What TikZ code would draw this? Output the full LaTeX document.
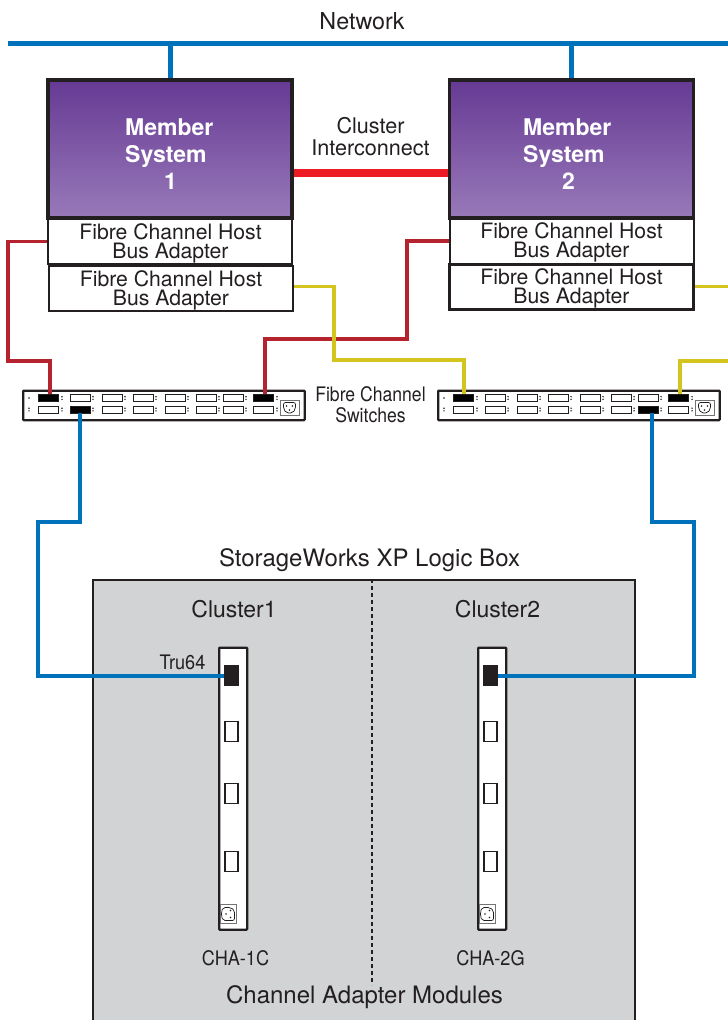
\documentclass[tikz,border=0pt]{standalone}
\usepackage{fontspec}
\setmainfont{TeX Gyre Heros}
\usetikzlibrary{positioning, calc}
\definecolor{inkdark}{HTML}{231F20}
\definecolor{netblue}{HTML}{0072BC}
\definecolor{linkred}{HTML}{ED1C24}
\definecolor{fcred}{HTML}{B5232E}
\definecolor{fcyellow}{HTML}{D4C41E}
\definecolor{boxgrey}{HTML}{D1D3D4}
\definecolor{purpletop}{HTML}{663A94}
\definecolor{purplelow}{HTML}{9879B9}
\tikzset{
    memberbox/.style={rectangle, draw=inkdark, line width=3.5pt, minimum width=244pt, minimum height=138pt, top color=purpletop, bottom color=purplelow, inner sep=0pt},
    membertext/.style={text=white, align=left, inner sep=0pt, font=\fontsize{23}{27}\selectfont\bfseries},
    hbabox/.style={rectangle, draw=inkdark, fill=white, line width=2pt, minimum width=244pt, minimum height=45pt, align=center, inner sep=0pt, font=\fontsize{21.2}{19}\selectfont, text=inkdark},
    caption/.style={inner sep=0pt, align=center, text=inkdark, font=\fontsize{22}{22}\selectfont},
    narrowcaption/.style={caption, xscale=.88, transform shape, font=\fontsize{20}{21}\selectfont},
    swport/.style={rectangle, draw=inkdark, fill=white, line width=.6pt, minimum width=20pt, minimum height=7pt, inner sep=0pt},
    swportblack/.style={swport, fill=black},
    modport/.style={rectangle, draw=inkdark, fill=white, line width=1.3pt, minimum width=13pt, minimum height=20pt, inner sep=0pt},
    modportblack/.style={modport, fill=inkdark},
    chassis/.style={rectangle, draw=inkdark, fill=white, line width=2.3pt, rounded corners=.8pt, inner sep=0pt},
    powerplug/.style={rectangle, draw=black!55, fill=white, line width=.7pt, inner sep=0pt},
    netwire/.style={netblue, line width=5pt},
    fcbluewire/.style={netblue, line width=4pt},
    fcredwire/.style={fcred, line width=3.8pt},
    fcyellowwire/.style={fcyellow, line width=3.8pt},
    fcswitch/.pic={
        \node[chassis, minimum width=281.5pt, minimum height=29.5pt, anchor=north west] (-body) at (0,0) {};
        \foreach \px [count=\pn] in {26.5,58.5,90,121.5,153.5,184.5,211,241.5} {
            \node[swport] (-t\pn) at (\px,8.5) {};
            \node[swport] (-b\pn) at (\px,20) {};
        }
        \foreach \px in {40,71,103,134,166,197,224,255} {
            \fill[inkdark] (\px,7.2) circle (.8) (\px,9.8) circle (.8) (\px,18.7) circle (.8) (\px,21.3) circle (.8);
        }
        \fill[inkdark] (7,8.5) circle (.9) (7,18.7) circle (.8) (7,21.3) circle (.8);
        \node[powerplug, minimum width=19pt, minimum height=15pt] (-plug) at (267.5,18.5) {};
        \draw[inkdark, line width=.7pt, rounded corners=2pt] (261.5,13) -- (273.5,13) -- (273.5,19.5) -- (270.5,23.5) -- (264.5,23.5) -- (261.5,19.5) -- cycle;
        \fill[inkdark] (264.5,16.5) circle (.9) (270.5,16.5) circle (.9) (267.5,20.5) circle (.9);
    },
    chamodule/.pic={
        \node[chassis, minimum width=28pt, minimum height=282pt, anchor=north west] (-body) at (0,0) {};
        \foreach \py [count=\pn] in {29,85,147,215} {
            \node[modport] (-p\pn) at (13.5,\py) {};
        }
        \node[powerplug, minimum width=16pt, minimum height=19pt] (-plug) at (10.5,267.5) {};
        \draw[inkdark, line width=.7pt, rounded corners=2pt] (5,261) -- (13,261) -- (16.5,264) -- (16.5,274) -- (5,274) -- (3.5,270) -- (3.5,265) -- cycle;
        \fill[inkdark] (8,267.5) circle (.9) (12.5,264) circle (.9) (12.5,271) circle (.9);
    }
}
\begin{document}
\begin{tikzpicture}[x=1pt, y=-1pt]
    \useasboundingbox (0,0) rectangle (728,1020);
    % logic box
    \node[rectangle, draw=inkdark, fill=boxgrey, line width=2pt, minimum width=542pt, minimum height=450pt, anchor=north west, inner sep=0pt] (logicbox) at (92,578.5) {};
    \coordinate (divtop) at (372,579);
    \coordinate (divlow) at (372,985);
    \draw[inkdark, line width=2pt, dash pattern=on 4pt off 3pt] (divtop) -- (divlow);
    \node[caption, font=\fontsize{24}{24}\selectfont] (logiclabel) at (369.5,560) {StorageWorks XP Logic Box};
    \node[caption, font=\fontsize{23}{24}\selectfont] (cluster1) at (234,609) {Cluster1};
    \node[caption, font=\fontsize{23}{24}\selectfont] (cluster2) at (497.5,609) {Cluster2};
    \node[caption, font=\fontsize{24}{24}\selectfont] (adapterlabel) at (364.5,997.5) {Channel Adapter Modules};

    % member systems
    \node[memberbox] (member1) at (170,149) {};
    \node[memberbox] (member2) at (571.5,149) {};
    \node[membertext, anchor=north west] (member1text) at (125,118.5) {Member\\System\\\hspace{39pt}1};
    \node[membertext, anchor=north west] (member2text) at (523,118.5) {Member\\System\\\hspace{39pt}2};
    \node[hbabox] (hba1a) at (169.5,241.5) {\rule{0pt}{19pt}\hspace{2pt}Fibre Channel Host\\\hspace{2pt}Bus Adapter};
    \node[hbabox, line width=2.6pt] (hba1b) at (171,288.5) {\rule{0pt}{19pt}Fibre Channel Host\\Bus Adapter};
    \node[hbabox] (hba2a) at (571.5,241) {\rule{0pt}{19pt}Fibre Channel Host\\Bus Adapter};
    \node[hbabox, line width=2.6pt] (hba2b) at (571.5,287) {\rule{0pt}{19pt}Fibre Channel Host\\Bus Adapter};

    % switches
    \pic (swa) at (22,389.5) {fcswitch};
    \pic (swb) at (437,389.5) {fcswitch};
    \node[swportblack] (swa-t1k) at (swa-t1) {};
    \node[swportblack] (swa-t8k) at (swa-t8) {};
    \node[swportblack] (swa-b2k) at (swa-b2) {};
    \node[swportblack] (swb-t1k) at (swb-t1) {};
    \node[swportblack] (swb-t8k) at (swb-t8) {};
    \node[swportblack] (swb-b7k) at (swb-b7) {};

    % channel adapter modules
    \pic (moda) at (218,646.5) {chamodule};
    \pic (modb) at (477,646.5) {chamodule};
    \node[modportblack] (moda-p1k) at (moda-p1) {};
    \node[modportblack] (modb-p1k) at (modb-p1) {};

    % labels
    \node[caption, font=\fontsize{23.3}{24}\selectfont] (networklabel) at (362,21) {Network};
    \node[caption, font=\fontsize{21.6}{22}\selectfont] (interlabel) at (370.5,137) {Cluster\\Interconnect};
    \node[narrowcaption] (switchlabel) at (370.5,404.5) {Fibre Channel\\Switches};
    \node[narrowcaption, xscale=1.03] (tru64) at (182.5,662) {Tru64};
    \node[narrowcaption, xscale=1.03] (cha1c) at (235.5,958) {CHA-1C};
    \node[narrowcaption, xscale=1.03] (cha2g) at (490.5,958) {CHA-2G};

    % network
    \coordinate (netleft) at (8,43);
    \coordinate (netright) at (728,43);
    \draw[netwire] (netleft) -- (netright);
    \draw[netwire] (member1.north |- netleft) -- (member1.north);
    \draw[netwire] (member2.north |- netleft) -- (member2.north);
    \draw[linkred, line width=8pt] (member1.east |- 0,173) -- (member2.west |- 0,173);

    % fibre channel wires
    \coordinate (edgeb) at (728,286.5);
    \coordinate (edgec) at (728,361);
    \draw[fcredwire] (hba1a.west) -- (8,241.5) -- (8,361) -| ([xshift=1.5pt]swa-t1k.north);
    \draw[fcredwire] (hba2a.west) -- (407,241) -- (407,339) -| ([xshift=1.5pt]swa-t8k.north);
    \draw[fcyellowwire] (hba1b.east |- edgeb) -- (334,286.5) -- (334,360) -| ([xshift=.5pt]swb-t1k.north);
    \draw[fcyellowwire] (hba2b.east |- edgeb) -- (edgeb);
    \draw[fcyellowwire] (edgec) -- (680,361) -- ([xshift=1.5pt]swb-t8k.north);
    \draw[fcbluewire] ([xshift=-1pt]swa-b2k.south) |- (38,522) |- (moda-p1k.west);
    \draw[fcbluewire] ([xshift=3.5pt]swb-b7k.south) |- (694,522) |- (modb-p1k.east);
\end{tikzpicture}
\end{document}
